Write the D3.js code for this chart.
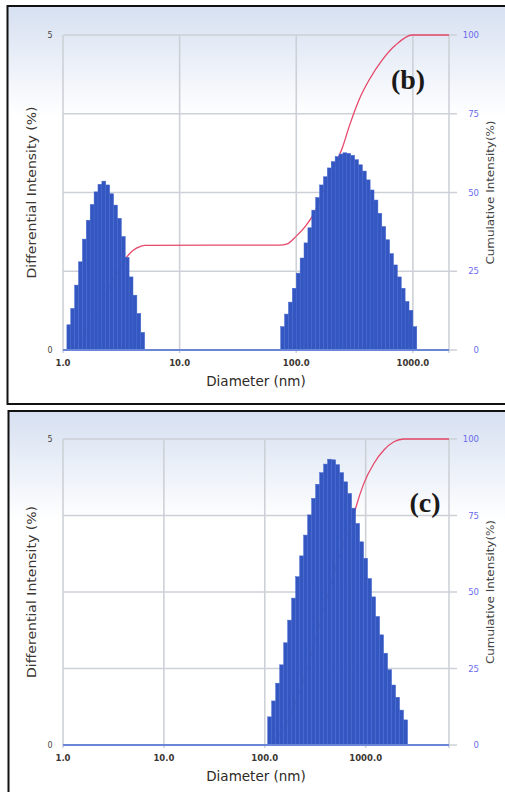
<!DOCTYPE html>
<html>
<head>
<meta charset="utf-8">
<script src="https://cdn.jsdelivr.net/npm/d3@7"></script>
<style>
  body { margin: 0; background: #fff; }
  svg { display: block; }
</style>
</head>
<body>
<div id="chart"></div>
<script>
// axis ticks
const xTicks = [1, 10, 100, 1000];
const xTickLabels = ["1.0", "10.0", "100.0", "1000.0"];
const leftTicks = [0, 5];
const rightTicks = [0, 25, 50, 75, 100];

// (b) bin edges (nm) and differential intensity (%)
const edgesB1 = [1.080, 1.166, 1.259, 1.359, 1.468, 1.585, 1.711, 1.848, 1.995, 2.154, 2.326,
  2.512, 2.712, 2.929, 3.162, 3.415, 3.687, 3.981, 4.299, 4.642, 5.012];
const intensB1 = [0.40, 0.66, 1.03, 1.40, 1.76, 2.06, 2.31, 2.51, 2.63, 2.68,
  2.62, 2.48, 2.30, 2.09, 1.80, 1.47, 1.16, 0.87, 0.58, 0.28];
const edgesB2 = [73.56, 79.43, 85.77, 92.61, 100.0, 107.98, 116.59, 125.89, 135.94, 146.78,
  158.49, 171.13, 184.78, 199.53, 215.44, 232.63, 251.19, 271.23, 292.87, 316.23,
  341.45, 368.69, 398.11, 429.87, 464.16, 501.19, 541.17, 584.34, 630.96, 681.29,
  735.64, 794.33, 857.70, 926.12, 1000.0, 1079.8];
const intensB2 = [0.37, 0.57, 0.76, 0.98, 1.22, 1.46, 1.70, 1.94, 2.22, 2.42,
  2.62, 2.75, 2.89, 2.99, 3.07, 3.11, 3.13, 3.12, 3.09, 3.02,
  2.94, 2.84, 2.70, 2.54, 2.38, 2.17, 1.96, 1.75, 1.53, 1.35,
  1.16, 0.98, 0.77, 0.63, 0.37];
// (b) cumulative intensity (%)
const cumSizeB = [1.0, 1.08, 1.17, 1.36, 1.59, 1.85, 2.15, 2.51, 2.93, 3.42, 3.98, 4.64, 5.01,
  20, 71.6, 85, 99, 121, 147, 175, 210, 250, 284, 345, 421, 547, 711, 986, 2040];
const cumPctB = [0, 0, 0.4, 2.1, 5.3, 9.6, 14.8, 20.1, 24.8, 28.9, 31.6, 32.9, 33.2,
  33.3, 33.3, 33.8, 36.0, 39.5, 44.4, 51.3, 57.7, 64.5, 70.9, 79.4, 85.7, 92.1, 96.8, 100, 100];

// (c) bin edges (nm) and differential intensity (%)
const edgesC = [106.9, 117.1, 128.3, 140.6, 154.0, 168.7, 184.8, 202.4, 221.8, 242.9,
  266.1, 291.5, 319.3, 349.8, 383.2, 419.8, 459.8, 503.7, 551.8, 604.4,
  662.2, 725.4, 794.6, 870.4, 953.6, 1044.7, 1144.4, 1253.6, 1373.3, 1504.4,
  1648.2, 1805.4, 1977.8, 2166.6, 2373.4, 2600.2];
const intensC = [0.46, 0.72, 1.01, 1.31, 1.67, 2.04, 2.40, 2.75, 3.09, 3.43,
  3.76, 4.03, 4.26, 4.45, 4.59, 4.67, 4.66, 4.58, 4.45, 4.30,
  4.11, 3.87, 3.62, 3.32, 3.05, 2.72, 2.42, 2.10, 1.80, 1.50,
  1.23, 0.98, 0.78, 0.57, 0.41];
// (c) cumulative intensity (%)
const cumSizeC = [1.0, 107, 130, 160, 200, 250, 295, 350, 420, 500, 600, 753, 794, 960,
  1206, 1517, 1905, 2395, 6700];
const cumPctC = [0, 0, 2.0, 6.5, 13.5, 22.5, 30.5, 39.5, 49, 57.5, 65.5, 74.5, 77.3, 85.5,
  92.0, 96.4, 99.1, 100, 100];

const width = 505, height = 792;

const svg = d3.select("#chart").append("svg")
    .attr("width", width)
    .attr("height", height)
    .attr("viewBox", [0, 0, width, height]);

const defs = svg.append("defs");
const grad = defs.append("linearGradient")
    .attr("id", "bg").attr("x1", 0).attr("y1", 0).attr("x2", 0).attr("y2", 1);
grad.append("stop").attr("offset", "0%").attr("stop-color", "#d6e0f1");
grad.append("stop").attr("offset", "100%").attr("stop-color", "#ffffff");

function drawPanel(p) {
    const g = svg.append("g");

    // panel background with gradient at the top
    g.append("rect")
        .attr("x", p.frameX).attr("y", p.frameY)
        .attr("width", width - p.frameX + 10).attr("height", p.frameH)
        .attr("fill", "#fff");
    g.append("rect")
        .attr("x", p.frameX).attr("y", p.frameY)
        .attr("width", width - p.frameX + 10).attr("height", p.gradH)
        .attr("fill", "url(#bg)");

    const x = d3.scaleLog().domain([1, p.xMax]).range([p.left, p.right]);
    const yL = d3.scaleLinear().domain([0, 5]).range([p.bottom, p.top]);
    const yR = d3.scaleLinear().domain([0, 100]).range([p.bottom, p.top]);

    // grid
    const grid = g.append("g").attr("stroke", "#cdd1d7").attr("stroke-width", 1.6);
    grid.selectAll("line.h")
      .data(rightTicks)
      .join("line")
        .attr("x1", p.left).attr("x2", p.right + 8)
        .attr("y1", d => yR(d)).attr("y2", d => yR(d));
    grid.selectAll("line.v")
      .data(xTicks.concat([p.xMax]))
      .join("line")
        .attr("x1", d => x(d)).attr("x2", d => x(d))
        .attr("y1", p.top).attr("y2", p.bottom + 3);

    // cumulative curve (behind the bars)
    const cum = d3.zip(p.cumSize, p.cumPct);
    g.append("path")
        .datum(cum)
        .attr("fill", "none")
        .attr("stroke", "#e5486a")
        .attr("stroke-width", 1.3)
        .attr("d", d3.line()
            .x(d => x(d[0]))
            .y(d => yR(d[1]))
            .curve(d3.curveMonotoneX));

    // bars
    p.bins.forEach(([edges, vals]) => {
        g.append("g")
            .attr("fill", "#3456c0")
            .attr("stroke", "#4266cf")
            .attr("stroke-width", 0.5)
          .selectAll("rect")
          .data(vals)
          .join("rect")
            .attr("x", (d, i) => x(edges[i]))
            .attr("width", (d, i) => x(edges[i + 1]) - x(edges[i]))
            .attr("y", d => yL(d))
            .attr("height", d => p.bottom - yL(d));
    });

    // baseline
    g.append("line")
        .attr("x1", p.left).attr("x2", p.right)
        .attr("y1", p.bottom).attr("y2", p.bottom)
        .attr("stroke", "#6a86d8").attr("stroke-width", 2);

    // x tick labels
    g.append("g")
        .attr("font-family", "DejaVu Sans")
        .attr("font-weight", "bold")
        .attr("font-size", 8.5)
        .attr("fill", "#3b3631")
        .attr("text-anchor", "middle")
      .selectAll("text")
      .data(xTicks)
      .join("text")
        .attr("x", d => x(d))
        .attr("y", p.bottom + 16)
        .text((d, i) => xTickLabels[i]);

    // left ticks
    g.append("g")
        .attr("font-family", "DejaVu Sans")
        .attr("font-size", 8)
        .attr("fill", "#4a4540")
        .attr("text-anchor", "middle")
      .selectAll("text")
      .data(leftTicks)
      .join("text")
        .attr("x", 50)
        .attr("y", d => yL(d) + 3)
        .text(d => d);

    // right ticks
    g.append("g")
        .attr("font-family", "DejaVu Sans")
        .attr("font-size", 8.5)
        .attr("fill", "#6b6bee")
        .attr("text-anchor", "end")
      .selectAll("text")
      .data(rightTicks)
      .join("text")
        .attr("x", 479)
        .attr("y", d => yR(d) + 3)
        .text(d => d);

    const midY = (p.top + p.bottom) / 2;

    g.append("text")
        .attr("transform", `translate(36,${midY}) rotate(-90)`)
        .attr("text-anchor", "middle")
        .attr("font-family", "DejaVu Sans")
        .attr("font-size", 12)
        .attr("textLength", 172)
        .attr("lengthAdjust", "spacingAndGlyphs")
        .attr("fill", "#3a3530")
        .text("Differential Intensity (%)");

    g.append("text")
        .attr("transform", `translate(494,${midY}) rotate(-90)`)
        .attr("text-anchor", "middle")
        .attr("font-family", "DejaVu Sans")
        .attr("font-size", 11)
        .attr("textLength", 144)
        .attr("lengthAdjust", "spacingAndGlyphs")
        .attr("fill", "#444")
        .text("Cumulative Intensity(%)");

    g.append("text")
        .attr("x", 256)
        .attr("y", p.bottom + 36)
        .attr("text-anchor", "middle")
        .attr("font-family", "DejaVu Sans")
        .attr("font-size", 13.5)
        .attr("fill", "#2e2a26")
        .text("Diameter (nm)");

    g.append("text")
        .attr("x", p.tagX)
        .attr("y", p.tagY)
        .attr("text-anchor", "middle")
        .attr("font-family", "Liberation Serif")
        .attr("font-weight", "bold")
        .attr("font-size", 28)
        .attr("fill", "#1c1a18")
        .text(p.tag);

    // panel frame
    g.append("rect")
        .attr("x", p.frameX).attr("y", p.frameY)
        .attr("width", width - p.frameX + 10).attr("height", p.frameH)
        .attr("fill", "none")
        .attr("stroke", "#111")
        .attr("stroke-width", 2);
}

drawPanel({
    frameX: 7.5, frameY: 6, frameH: 398, gradH: 110,
    left: 63, right: 449, top: 35, bottom: 350, xMax: 2040,
    bins: [[edgesB1, intensB1], [edgesB2, intensB2]],
    cumSize: cumSizeB, cumPct: cumPctB,
    tag: "(b)", tagX: 408, tagY: 89
});

drawPanel({
    frameX: 8.5, frameY: 411, frameH: 400, gradH: 110,
    left: 63, right: 449, top: 439, bottom: 745, xMax: 6700,
    bins: [[edgesC, intensC]],
    cumSize: cumSizeC, cumPct: cumPctC,
    tag: "(c)", tagX: 425, tagY: 512
});
</script>
</body>
</html>
